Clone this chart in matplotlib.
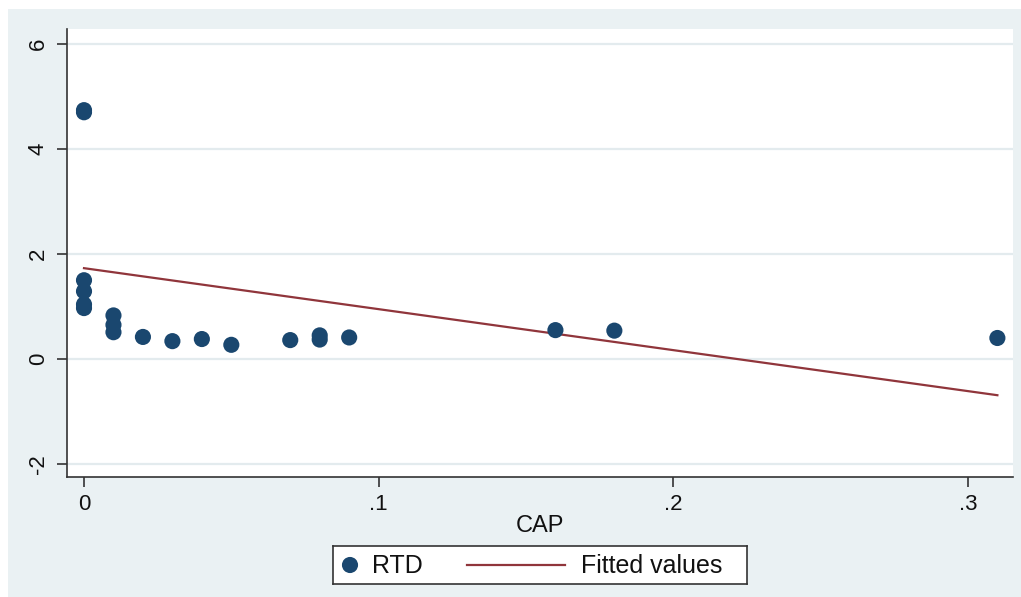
import matplotlib
matplotlib.use("Agg")
import matplotlib.pyplot as plt
from matplotlib.patches import Rectangle
from matplotlib.lines import Line2D

plt.rcParams['font.family'] = ['Liberation Sans', 'DejaVu Sans']

# ---- data ----
cap = [0, 0, 0, 0, 0, 0, 0.01, 0.01, 0.01, 0.02, 0.03, 0.04, 0.05,
       0.07, 0.08, 0.08, 0.09, 0.16, 0.18, 0.31]
rtd = [4.74, 4.70, 1.50, 1.29, 1.04, 0.97, 0.83, 0.65, 0.51, 0.42, 0.34,
       0.38, 0.27, 0.36, 0.45, 0.37, 0.41, 0.55, 0.54, 0.40]
fit_x = [0, 0.31]
fit_y = [1.73, -0.69]
yticks = [-2, 0, 2, 4, 6]
yticklabels = ['-2', '0', '2', '4', '6']
xticks = [0, 0.1, 0.2, 0.3]
xticklabels = ['0', '.1', '.2', '.3']

W, H = 1021, 597
BG = '#eaf1f3'
NAVY = '#1a476f'
MAROON = '#90353b'

fig = plt.figure(figsize=(W / 100, H / 100), dpi=100)
fig.patch.set_facecolor('white')
fig.add_artist(Rectangle((8 / W, 0), 1 - 8 / W, 1 - 9 / H,
                         transform=fig.transFigure, facecolor=BG,
                         edgecolor='none', zorder=-10))

ax = fig.add_axes([67 / W, 1 - 477 / H, (1013 - 67) / W, (477 - 29) / H])
ax.set_facecolor('white')
ax.set_xlim(-0.00577, 0.3153)
ax.set_ylim(-2.248, 6.286)

for yv in yticks:
    ax.axhline(yv, color='#e3ebee', lw=1.6, zorder=0)

ax.scatter(cap, rtd, s=135, color=NAVY, edgecolors='none', zorder=3)
ax.plot(fit_x, fit_y, color=MAROON, lw=1.6, zorder=2)

for s in ['top', 'right']:
    ax.spines[s].set_visible(False)
for s in ['left', 'bottom']:
    ax.spines[s].set_color('#333333')
    ax.spines[s].set_linewidth(1.2)

ax.set_yticks(yticks)
ax.set_yticklabels(yticklabels, rotation=90, va='center')
ax.set_xticks(xticks)
ax.set_xticklabels(xticklabels)
ax.tick_params(axis='both', direction='out', length=7, width=1.2,
               color='#333333', labelsize=16, labelcolor='#111111')
ax.tick_params(axis='y', pad=6)
ax.tick_params(axis='x', pad=5)
ax.set_xlabel('CAP', fontsize=17, color='#111111', labelpad=0)

# ---- legend box (manual, Stata style) ----
lx0, lx1, ly0, ly1 = 333, 747, 546, 584
lax = fig.add_axes([lx0 / W, 1 - ly1 / H, (lx1 - lx0) / W, (ly1 - ly0) / H])
lax.set_xlim(lx0, lx1)
lax.set_ylim(ly1, ly0)
lax.set_xticks([])
lax.set_yticks([])
lax.set_facecolor('white')
for s in lax.spines.values():
    s.set_color('#333333')
    s.set_linewidth(1.2)
yc = (ly0 + ly1) / 2
lax.scatter([350], [yc], s=135, color=NAVY, edgecolors='none')
lax.text(372, yc + 1, 'RTD', fontsize=18, va='center', ha='left', color='#111111')
lax.add_line(Line2D([467, 565], [yc, yc], color=MAROON, lw=1.6))
lax.text(581, yc + 1, 'Fitted values', fontsize=18, va='center', ha='left',
         color='#111111')

fig.savefig('out.png', dpi=100, facecolor=fig.get_facecolor())
